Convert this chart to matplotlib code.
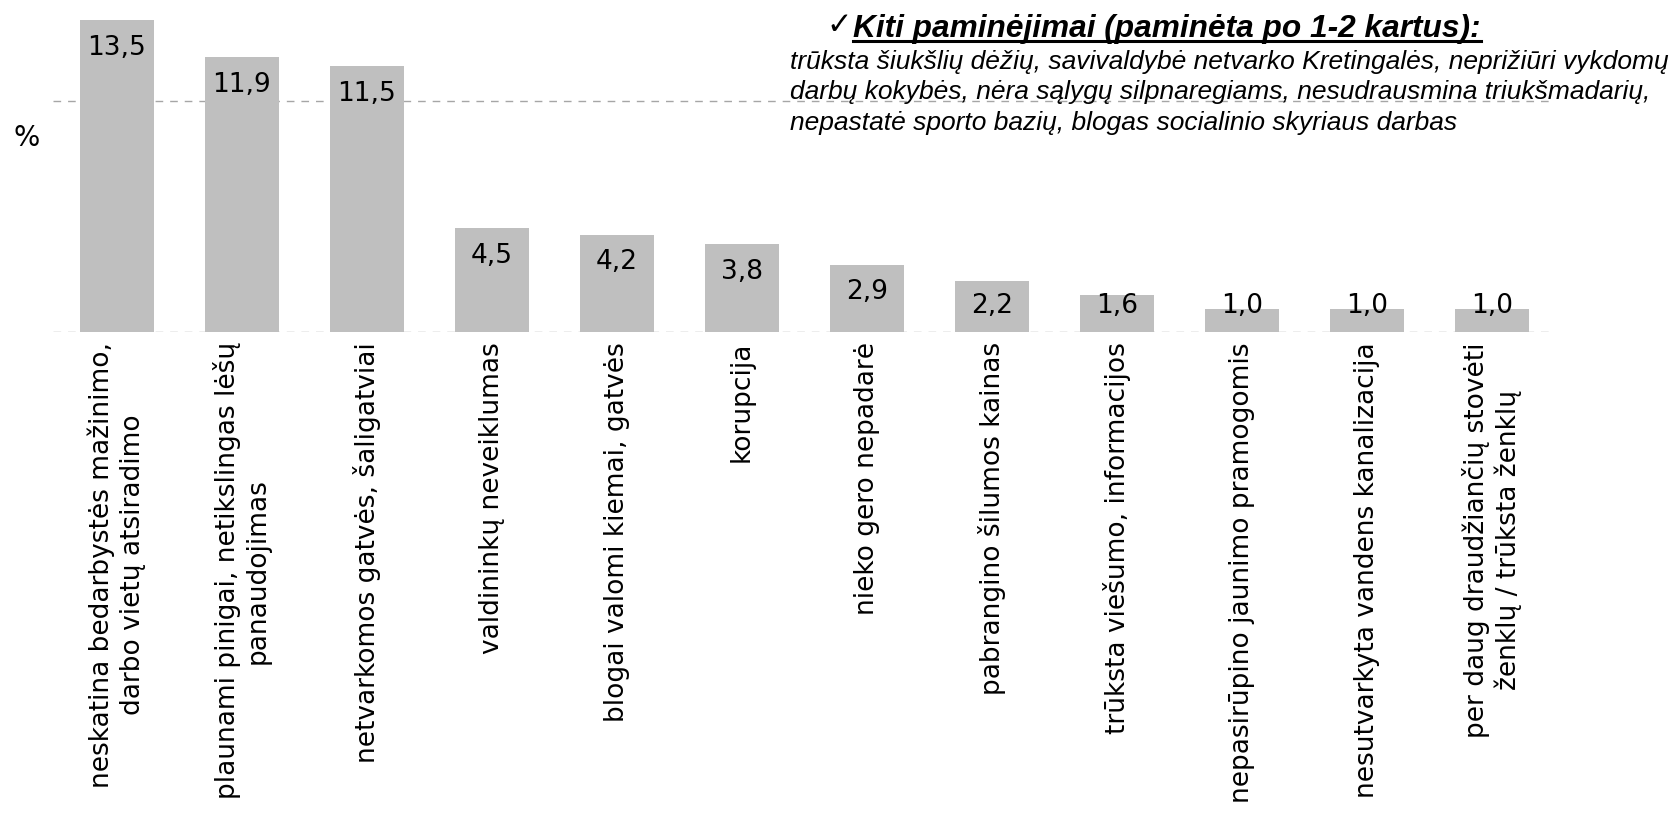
import matplotlib
matplotlib.use("Agg")
import matplotlib.pyplot as plt
from matplotlib.lines import Line2D

categories = [
    "neskatina bedarbystės mažinimo,\ndarbo vietų atsiradimo",
    "plaunami pinigai, netikslingas lėšų\npanaudojimas",
    "netvarkomos gatvės, šaligatviai",
    "valdininkų neveiklumas",
    "blogai valomi kiemai, gatvės",
    "korupcija",
    "nieko gero nepadarė",
    "pabrangino šilumos kainas",
    "trūksta viešumo, informacijos",
    "nepasirūpino jaunimo pramogomis",
    "nesutvarkyta vandens kanalizacija",
    "per daug draudžiančių stovėti\nženklų / trūksta ženklų",
]
values = [13.5, 11.9, 11.5, 4.5, 4.2, 3.8, 2.9, 2.2, 1.6, 1.0, 1.0, 1.0]
value_labels = ["13,5", "11,9", "11,5", "4,5", "4,2", "3,8", "2,9", "2,2", "1,6", "1,0", "1,0", "1,0"]

heading = "Kiti paminėjimai (paminėta po 1-2 kartus):"
note_lines = [
    "trūksta šiukšlių dėžių, savivaldybė netvarko Kretingalės, neprižiūri vykdomų",
    "darbų kokybės, nėra sąlygų silpnaregiams, nesudrausmina triukšmadarių,",
    "nepastatė sporto bazių, blogas socialinio skyriaus darbas",
]

W, H = 1677, 813
fig = plt.figure(figsize=(W / 100, H / 100), dpi=100)

x0_px, y0_px = 53, 331.7
unit_x = 125.0
unit_y = 23.07
xlim = (-0.51, 11.47)
ylim = (0, 14)
ax = fig.add_axes([x0_px / W, 1 - y0_px / H,
                   (xlim[1] - xlim[0]) * unit_x / W, (ylim[1] - ylim[0]) * unit_y / H])

xs = list(range(len(values)))
ax.bar(xs, values, width=0.59, color="#bfbfbf", zorder=2)
ax.set_xlim(*xlim)
ax.set_ylim(*ylim)
ax.set_yticks([0, 10])
ax.yaxis.grid(True, color="#a6a6a6", linestyle=(0, (5.5, 5)), linewidth=1.0, zorder=0)
ax.set_axisbelow(True)
for s in ax.spines.values():
    s.set_visible(False)
ax.tick_params(axis="y", left=False, labelleft=False)
ax.set_xticks(xs)
ax.set_xticklabels(categories, rotation=90, fontsize=19, ha="center", va="top",
                   multialignment="center", family="DejaVu Sans")
ax.tick_params(axis="x", bottom=False, pad=4)

for x, v, lab in zip(xs, values, value_labels):
    ax.text(x, max(v - 1.2, 1.11), lab, ha="center", va="center", fontsize=19,
            color="black", family="DejaVu Sans", zorder=3)

fig.text(27 / W, 1 - 138 / H, "%", fontsize=20, ha="center", va="center", family="DejaVu Sans")

fig.text(826 / W, 1 - 34 / H, "✓", fontsize=22, ha="left", va="baseline",
         family="DejaVu Sans", weight="bold")
ht = fig.text(853 / W, 1 - 36.5 / H, heading, fontsize=22.8, ha="left", va="baseline",
              family="Liberation Sans", weight="bold", style="italic")
for i, line in enumerate(note_lines):
    fig.text(790 / W, 1 - (69 + 30.5 * i) / H, line, fontsize=19, ha="left", va="baseline",
             family="Liberation Sans", style="italic")

fig.canvas.draw()
bb = ht.get_window_extent(renderer=fig.canvas.get_renderer())
uy = 1 - 41.5 / H
fig.add_artist(Line2D([bb.x0 / W, bb.x1 / W], [uy, uy], transform=fig.transFigure,
                      color="black", linewidth=2.2))

fig.savefig("out.png", dpi=100)
